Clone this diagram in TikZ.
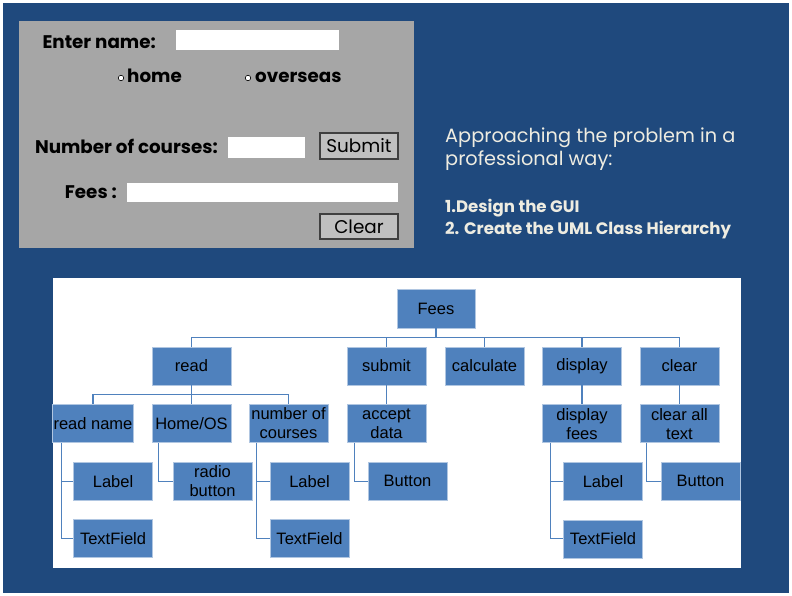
\documentclass[tikz,border=0pt]{standalone}
\usepackage{fontspec}
\setmainfont{Liberation Sans}
\newfontfamily\guifont{Poppins}
\usepackage{tikz}
\usetikzlibrary{positioning}
\definecolor{slideblue}{HTML}{1F497D}
\definecolor{boxblue}{HTML}{4F81BD}
\definecolor{panelgray}{HTML}{A6A6A6}
\definecolor{btngray}{HTML}{C0C0C0}
\definecolor{cream}{HTML}{EEECE1}

\begin{document}
\begin{tikzpicture}[
  x=1pt, y=-1pt,
  box/.style={rectangle, draw=boxblue!45, fill=boxblue, line width=0.6pt,
              minimum width=79pt, minimum height=38pt, inner sep=1pt,
              align=center, font=\fontsize{16.5}{19}\selectfont},
  conn/.style={draw=boxblue, line width=1.2pt},
  field/.style={rectangle, fill=white, inner sep=0pt, anchor=north west},
  btn/.style={rectangle, fill=btngray, draw=black!75, line width=1.2pt,
              minimum width=78pt, minimum height=25pt, inner sep=0pt,
              font=\guifont\fontsize{18.4}{20}\selectfont},
  guilabel/.style={font=\guifont\bfseries\fontsize{18.3}{20}\selectfont, inner sep=0pt},
  radio/.style={circle, draw=black, fill=white, line width=0.6pt,
                minimum size=5.5pt, inner sep=0pt},
  note/.style={font=\guifont\fontsize{19.3}{23}\selectfont, text=cream,
               inner sep=0pt, anchor=base west},
  boldnote/.style={note, font=\guifont\bfseries\fontsize{16.6}{20}\selectfont}
]
% slide background
\fill[white] (0,0) rectangle (792,596);
\fill[slideblue] (3,3) rectangle (789,593);

% the form
\node[fill=panelgray, minimum width=395pt, minimum height=227pt, inner sep=0pt,
      anchor=north west] (form) at (19,21) {};
\node[guilabel, anchor=base east] (namelbl) at (156,49) {Enter name:};
\node[field, minimum width=163pt, minimum height=20pt] (namefield) at (176,30) {};
\node[radio] (homeradio) at (121,78) {};
\node[guilabel, anchor=base west] (homelbl) at (127,83) {home};
\node[radio] (osradio) at (248,78) {};
\node[guilabel, anchor=base west] (oslbl) at (255,83) {overseas};
\node[guilabel, anchor=base east] (numlbl) at (218,154) {Number of courses:};
\node[field, minimum width=77pt, minimum height=21pt] (numfield) at (228,137) {};
\node[btn, minimum height=26pt] (submitbtn) at (359,146) {Submit};
\node[guilabel, anchor=base east] (feeslbl) at (117,199) {Fees :};
\node[field, minimum width=271pt, minimum height=19pt] (feesfield) at (127,183) {};
\node[btn] (clearbtn) at (359,226.5) {Clear};

% the notes
\node[note] (line1) at (445,143) {Approaching the problem in a};
\node[note] (line2) at (445,166) {professional way:};
\node[boldnote] (step1) at (445,212) {1.Design the GUI};
\node[boldnote] (step2) at (445,234) {2. Create the UML Class Hierarchy};

% class hierarchy
\node[fill=white, minimum width=688pt, minimum height=290pt, inner sep=0pt,
      anchor=north west] (chart) at (53,278) {};
\node[box, minimum width=78pt, minimum height=39pt] (fees) at (436,308.5) {Fees};
\node[box] (read)      at (191.5,366) {read};
\node[box] (submit)    at (386.5,366) {submit};
\node[box] (calculate) at (484.5,366) {calculate};
\node[box] (display)   at (582,366)   {display};
\node[box] (clear)     at (679.5,366) {clear};

\node[box] (readname)   at (93,423.5)    {read name};
\node[box] (homeos)     at (191.5,423.5) {Home/OS};
\node[box] (numcourses) at (288.5,423.5) {number of\\courses};
\node[box, below=19pt of submit]  (accept)   {accept\\data};
\node[box, below=19pt of display] (dispfees) {display\\fees};
\node[box, below=19pt of clear]   (clearall) {clear all\\text};

\node[box, below right=19pt and 21pt of readname.south west]   (rnlabel)   {Label};
\node[box, below=19pt of rnlabel]                              (rntext)    {TextField};
\node[box, below right=19pt and 21pt of homeos.south west]     (radiobtn)  {radio\\button};
\node[box, below right=19pt and 21pt of numcourses.south west] (nclabel)   {Label};
\node[box, below=19pt of nclabel]                              (nctext)    {TextField};
\node[box, below right=19pt and 21pt of accept.south west]     (acceptbtn) {Button};
\node[box, below right=19pt and 21pt of dispfees.south west]   (dflabel)   {Label};
\node[box, below=19pt of dflabel]                              (dftext)    {TextField};
\node[box, below right=19pt and 21pt of clearall.south west]   (clearbtn2) {Button};

\foreach \n in {read,submit,calculate,display,clear}
  \draw[conn] (fees.south) -- ++(0,9) -| (\n.north);
\foreach \n in {readname,homeos,numcourses}
  \draw[conn] (read.south) -- ++(0,9) -| (\n.north);
\draw[conn] (submit) -- (accept);
\draw[conn] (display) -- (dispfees);
\draw[conn] (clear) -- (clearall);

\draw[conn] ([xshift=9pt]readname.south west) |- (rnlabel.west);
\draw[conn] ([xshift=9pt]readname.south west) |- (rntext.west);
\draw[conn] ([xshift=7pt]homeos.south west) |- (radiobtn.west);
\draw[conn] ([xshift=8pt]numcourses.south west) |- (nclabel.west);
\draw[conn] ([xshift=8pt]numcourses.south west) |- (nctext.west);
\draw[conn] ([xshift=8pt]accept.south west) |- (acceptbtn.west);
\draw[conn] ([xshift=8pt]dispfees.south west) |- (dflabel.west);
\draw[conn] ([xshift=8pt]dispfees.south west) |- (dftext.west);
\draw[conn] ([xshift=7pt]clearall.south west) |- (clearbtn2.west);
\end{tikzpicture}
\end{document}
